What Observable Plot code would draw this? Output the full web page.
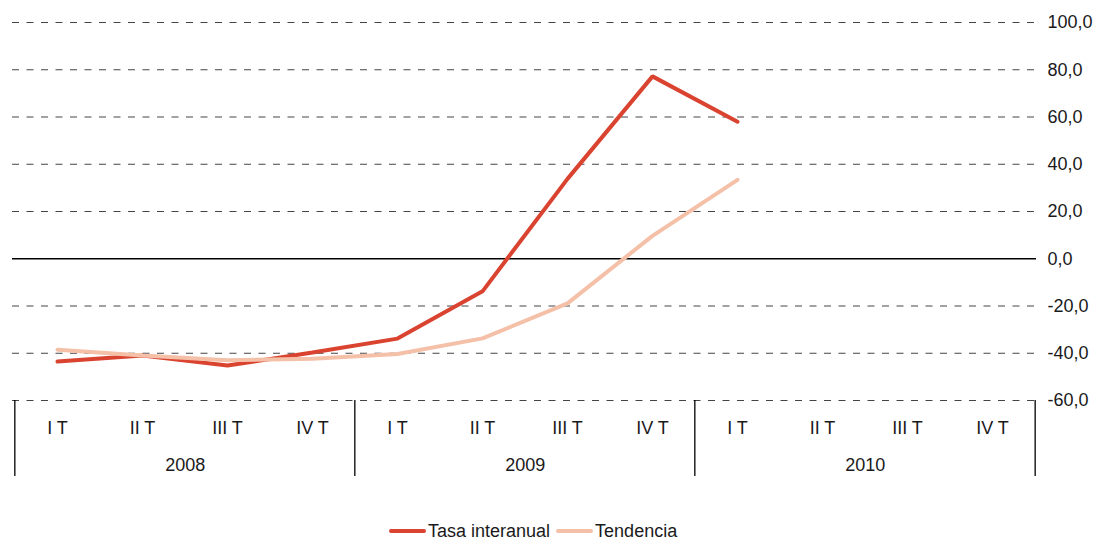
<!DOCTYPE html>
<html><head><meta charset="utf-8">
<script src="https://cdn.jsdelivr.net/npm/d3@7"></script>
<script src="https://cdn.jsdelivr.net/npm/@observablehq/plot@0.6"></script>
<style>
body{margin:0;background:#fff;font-family:"Liberation Sans",Arial,sans-serif;}
#chart{position:relative;width:1097px;height:539px;overflow:hidden;}
#legend{position:absolute;top:521px;left:389px;display:flex;align-items:center;font-size:18px;color:#1a1a1a;height:20px;white-space:nowrap;}
#legend span{margin-right:6px}
#legend svg{margin-right:2px}
</style></head><body><div id="chart"></div>
<script>
const years = ["2008", "2009", "2010"];
const quarters = ["I T", "II T", "III T", "IV T"];
const tasaInteranual = [-43.5, -41, -45.2, -39.7, -33.8, -13.8, 33.8, 77.2, 58];
const tendencia = [-38.5, -41, -43, -42.3, -40.3, -33.7, -18.9, 9.7, 33.4];
const yTicks = [100, 80, 60, 40, 20, 0, -20, -40, -60];
const seriesNames = ["Tasa interanual", "Tendencia"];
const seriesColors = ["#d9432f", "#f4c0a8"];

const keys = years.flatMap(y => quarters.map(q => y + "|" + q));
const rowsTasa = tasaInteranual.map((v, i) => ({key: keys[i], value: v}));
const rowsTend = tendencia.map((v, i) => ({key: keys[i], value: v}));

const W = 1097, mL = 12, mR = 61;
const step = (W - mL - mR) / keys.length;
const fmt = d => d.toFixed(1).replace(".", ",");

const plot = Plot.plot({
  width: W, height: 510,
  marginLeft: mL, marginRight: mR, marginTop: 22, marginBottom: 110,
  style: {fontFamily: '"Liberation Sans", Arial, sans-serif', fontSize: "18px", color: "#1a1a1a", background: "#fff"},
  x: {type: "point", domain: keys, padding: 0.5, label: null},
  y: {domain: [-60, 100], label: null},
  marks: [
    Plot.ruleY(yTicks.filter(d => d !== 0), {stroke: "#444", strokeDasharray: "7,7.5", strokeWidth: 1}),
    Plot.ruleY([0], {stroke: "#000", strokeWidth: 1.3}),
    Plot.ruleX(years.map(y => y + "|I T"), {x: d => d, dx: -step / 2, y1: -60, y2: -60, insetBottom: -76, stroke: "#000", strokeWidth: 1.3}),
    Plot.ruleX([keys[keys.length - 1]], {x: d => d, dx: step / 2, y1: -60, y2: -60, insetBottom: -76, stroke: "#000", strokeWidth: 1.3}),
    Plot.line(rowsTasa, {x: "key", y: "value", stroke: seriesColors[0], strokeWidth: 4, strokeLinejoin: "miter"}),
    Plot.line(rowsTend, {x: "key", y: "value", stroke: seriesColors[1], strokeWidth: 4, strokeLinejoin: "miter"}),
    Plot.axisY({anchor: "right", ticks: yTicks, tickSize: 0, tickPadding: 11, tickFormat: fmt, label: null}),
    Plot.axisX({anchor: "bottom", tickSize: 0, tickPadding: 21, tickFormat: d => d.split("|")[1], label: null}),
    Plot.text(years, {x: d => d + "|II T", dx: step / 2, frameAnchor: "bottom", dy: 70, text: d => d})
  ]
});
const chart = document.getElementById("chart");
chart.appendChild(plot);

const legend = document.createElement("div");
legend.id = "legend";
seriesNames.forEach((name, i) => {
  const sw = document.createElementNS("http://www.w3.org/2000/svg", "svg");
  sw.setAttribute("width", 37); sw.setAttribute("height", 10);
  const ln = document.createElementNS("http://www.w3.org/2000/svg", "line");
  ln.setAttribute("x1", 2); ln.setAttribute("x2", 35); ln.setAttribute("y1", 5); ln.setAttribute("y2", 5);
  ln.setAttribute("stroke", seriesColors[i]); ln.setAttribute("stroke-width", 4); ln.setAttribute("stroke-linecap", "round");
  sw.appendChild(ln);
  const t = document.createElement("span"); t.textContent = name;
  legend.appendChild(sw); legend.appendChild(t);
});
chart.appendChild(legend);
</script></body></html>
